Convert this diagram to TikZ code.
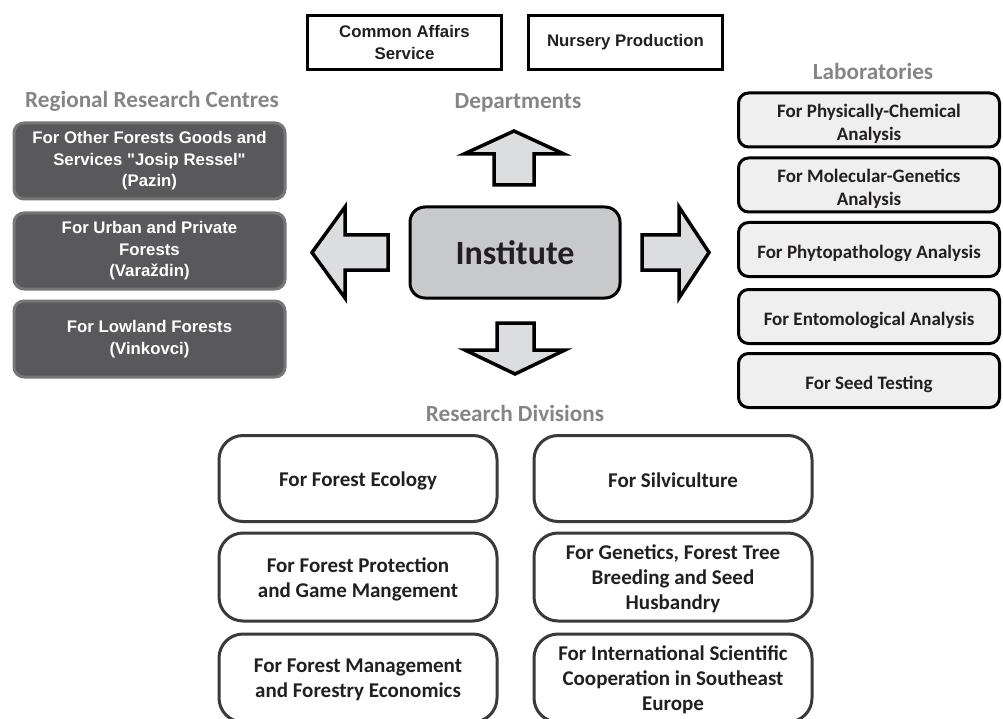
\documentclass[tikz,border=0pt]{standalone}
\usepackage{fontspec}
\setmainfont{Carlito}
\newfontfamily\arialf{Liberation Sans}
\definecolor{headgray}{HTML}{848588}
\definecolor{rcfill}{HTML}{59595B}
\definecolor{rcborder}{HTML}{767678}
\definecolor{labfill}{HTML}{EFEFEF}
\definecolor{divborder}{HTML}{3A3A3A}
\definecolor{instfill}{HTML}{C8C9CB}
\definecolor{arrowfill}{HTML}{DCDDDE}
\definecolor{txt}{HTML}{231F20}
\begin{document}
\begin{tikzpicture}[x=1pt,y=-1pt,
  headtxt/.style={font=\bfseries\fontsize{23.2}{26}\selectfont, text=headgray, inner sep=0pt},
  deptbox/.style={draw=black, line width=3pt, fill=white, minimum width=194pt, minimum height=54pt,
    inner sep=0pt, align=center, text=txt, font=\arialf\bfseries\fontsize{16.8}{22}\selectfont},
  rcbox/.style={draw=rcborder, fill=rcfill, line width=3pt, rounded corners=10pt,
    minimum width=271pt, minimum height=76pt, inner sep=0pt, align=center, text=white,
    font=\arialf\bfseries\fontsize{16.8}{21.5}\selectfont},
  labbox/.style={draw=black, line width=3pt, fill=labfill, rounded corners=10pt,
    minimum width=261pt, minimum height=54pt, inner sep=0pt},
  labtxt/.style={inner sep=0pt, align=center, text=txt, yshift=-4pt,
    font=\bfseries\fontsize{19}{22.5}\selectfont},
  divbox/.style={draw=divborder, line width=3pt, fill=white, rounded corners=24pt,
    minimum width=278pt, inner sep=0pt},
  divtxt/.style={inner sep=0pt, align=center, text=txt, yshift=-2pt,
    font=\bfseries\fontsize{21}{25}\selectfont},
  instbox/.style={draw=black, line width=3pt, fill=instfill, rounded corners=15pt,
    minimum width=210pt, minimum height=91pt, inner sep=0pt, text=txt,
    font=\bfseries\fontsize{34}{40}\selectfont},
  bigarrow/.style={draw=black, line width=3.5pt, fill=arrowfill, line join=miter}
]
\useasboundingbox (0,0) rectangle (1003,719);
\clip (0,0) rectangle (1003,719);

% Departments
\node[deptbox] (cas) at (404.5,42.5) {Common Affairs\\Service};
\node[deptbox] (nur) at (625.5,42.5) {Nursery Production};
\node[headtxt] (hdep) at (518,103) {Departments};

% Institute
\node[instbox] (inst) at (515,252.5) {Institute};

% Block arrows
\draw[bigarrow] (514,131) -- (564,154) -- (534,154) -- (534,185) -- (494,185) -- (494,154) -- (464,154) -- cycle;
\draw[bigarrow] (515,374) -- (565,350) -- (534,350) -- (534,323) -- (497,323) -- (497,350) -- (465,350) -- cycle;
\draw[bigarrow] (312,252.5) -- (345,207) -- (345,235) -- (388,235) -- (388,270) -- (345,270) -- (345,298) -- cycle;
\draw[bigarrow] (709,252.5) -- (679,207) -- (679,235) -- (642,235) -- (642,270) -- (679,270) -- (679,298) -- cycle;

% Regional Research Centres
\node[headtxt] (hrc) at (152,101) {Regional Research Centres};
\node[rcbox] (rc1) at (149.5,161) {For Other Forests Goods and\\Services "Josip Ressel"\\(Pazin)};
\node[rcbox] (rc2) at (149.5,251) {For Urban and Private\\Forests\\(Varaždin)};
\node[rcbox] (rc3) at (149.5,339) {For Lowland Forests\\(Vinkovci)};

% Laboratories
\node[headtxt] (hlab) at (873,71) {Laboratories};
\node[labbox] (lab1) at (869,120) {};
\node[labtxt] (lab1t) at (lab1.center) {For Physically-Chemical\\Analysis};
\node[labbox] (lab2) at (869,185) {};
\node[labtxt] (lab2t) at (lab2.center) {For Molecular-Genetics\\Analysis};
\node[labbox] (lab3) at (869,249.5) {};
\node[labtxt] (lab3t) at (lab3.center) {For Phytopathology Analysis};
\node[labbox] (lab4) at (869,316.5) {};
\node[labtxt] (lab4t) at (lab4.center) {For Entomological Analysis};
\node[labbox] (lab5) at (869,380.5) {};
\node[labtxt] (lab5t) at (lab5.center) {For Seed Testing};

% Research Divisions
\node[headtxt] (hdiv) at (515,413) {Research Divisions};
\node[divbox, minimum height=86pt] (d1) at (358,478.5) {};
\node[divtxt] (d1t) at (d1.center) {For Forest Ecology};
\node[divbox, minimum height=86pt] (d2) at (673,478.5) {};
\node[divtxt] (d2t) at (d2.center) {For Silviculture};
\node[divbox, minimum height=88pt] (d3) at (358,577) {};
\node[divtxt] (d3t) at (d3.center) {For Forest Protection\\and Game Mangement};
\node[divbox, minimum height=88pt] (d4) at (673,577) {};
\node[divtxt] (d4t) at (d4.center) {For Genetics, Forest Tree\\Breeding and Seed\\Husbandry};
\node[divbox, minimum height=88pt] (d5) at (358,678) {};
\node[divtxt] (d5t) at (d5.center) {For Forest Management\\and Forestry Economics};
\node[divbox, minimum height=88pt] (d6) at (673,678) {};
\node[divtxt] (d6t) at (d6.center) {For International Scientific\\Cooperation in Southeast\\Europe};
\end{tikzpicture}
\end{document}
